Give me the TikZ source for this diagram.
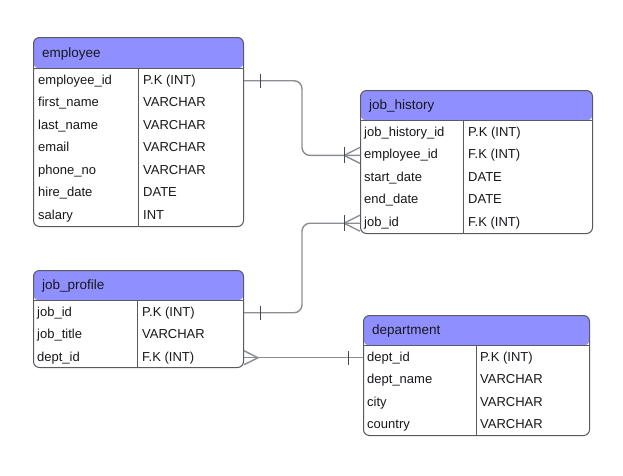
\documentclass[tikz,border=0pt]{standalone}
\usepackage{fontspec}
\setmainfont{Liberation Sans}
\usepackage{tikz}
\usetikzlibrary{positioning, calc}

\definecolor{hdrblue}{RGB}{143,143,255}
\definecolor{frameg}{RGB}{88,90,96}
\definecolor{linkg}{RGB}{138,141,148}
\definecolor{inkg}{RGB}{24,24,28}

\tikzset{
    onebar/.pic={\draw[barline] (0,-7) -- (0,7);},
    manybar/.pic={\draw[linkline] (0,0) -- (16,-8) (0,0) -- (16,8);
                  \draw[barline] (0,-8) -- (0,8);},
    manyfork/.pic={\draw[linkline] (0,-7) -- (14,0) -- (0,7);},
}

\begin{document}
\begin{tikzpicture}[
    x=1pt, y=-1pt,
    tbl/.style={draw=frameg, line width=1pt, rounded corners=6pt, fill=white, anchor=north west, inner sep=0pt,
        path picture={\fill[hdrblue] (path picture bounding box.north west) rectangle ([yshift=-#1]path picture bounding box.north east);}},
    hdrtext/.style={anchor=west, inner sep=0pt, text height=9.5pt, text depth=3pt, font=\fontsize{13.5}{15}\selectfont, text=inkg},
    cell/.style={anchor=west, inner sep=0pt, text height=9.5pt, text depth=3pt, font=\fontsize{13}{15}\selectfont, text=inkg},
    rule/.style={draw=frameg, line width=1pt},
    linkline/.style={draw=linkg, line width=1.4pt},
    barline/.style={draw=frameg!80!black, line width=1pt},
    link/.style={linkline, rounded corners=8pt},
]
\useasboundingbox (0,0) rectangle (623,475);

% employee
\node[tbl=31pt, minimum width=210pt, minimum height=189pt] (emp) at (33,37) {};
\node[hdrtext] (emp-h) at ($(emp.north west)+(9,17)$) {employee};
\draw[rule] ($(emp.north west)+(0,31)$) -- ($(emp.north east)+(0,31)$);
\draw[rule] ($(emp.north west)+(105,31)$) -- ($(emp.south west)+(105,0)$);
\foreach \n/\t [count=\i] in {employee\_id/P.K (INT), first\_name/VARCHAR, last\_name/VARCHAR, email/VARCHAR,
    phone\_no/VARCHAR, hire\_date/DATE, salary/INT} {
    \node[cell] (emp-\i) at ($(emp.north west)+(5,{31+22.5*\i-9.75})$) {\n};
    \node[cell] at ($(emp.north west)+(110,{31+22.5*\i-9.75})$) {\t};
}

% job_history
\node[tbl=30pt, minimum width=232pt, minimum height=143pt] (jh) at (360,90) {};
\node[hdrtext] (jh-h) at ($(jh.north west)+(9,16.5)$) {job\_history};
\draw[rule] ($(jh.north west)+(0,30)$) -- ($(jh.north east)+(0,30)$);
\draw[rule] ($(jh.north west)+(103,30)$) -- ($(jh.south west)+(103,0)$);
\foreach \n/\t [count=\i] in {job\_history\_id/P.K (INT), employee\_id/F.K (INT), start\_date/DATE,
    end\_date/DATE, job\_id/F.K (INT)} {
    \node[cell] (jh-\i) at ($(jh.north west)+(4,{30+22.6*\i-9.8})$) {\n};
    \node[cell] at ($(jh.north west)+(108,{30+22.6*\i-9.8})$) {\t};
}

% job_profile
\node[tbl=30pt, minimum width=210pt, minimum height=97pt] (jp) at (33,270) {};
\node[hdrtext] (jp-h) at ($(jp.north west)+(9,16.5)$) {job\_profile};
\draw[rule] ($(jp.north west)+(0,30)$) -- ($(jp.north east)+(0,30)$);
\draw[rule] ($(jp.north west)+(104,30)$) -- ($(jp.south west)+(104,0)$);
\foreach \n/\t [count=\i] in {job\_id/P.K (INT), job\_title/VARCHAR, dept\_id/F.K (INT)} {
    \node[cell] (jp-\i) at ($(jp.north west)+(4,{30+22.5*\i-9.75})$) {\n};
    \node[cell] at ($(jp.north west)+(109,{30+22.5*\i-9.75})$) {\t};
}

% department
\node[tbl=30pt, minimum width=226pt, minimum height=120pt] (dept) at (363,315) {};
\node[hdrtext] (dept-h) at ($(dept.north west)+(9,16.5)$) {department};
\draw[rule] ($(dept.north west)+(0,30)$) -- ($(dept.north east)+(0,30)$);
\draw[rule] ($(dept.north west)+(113,30)$) -- ($(dept.south west)+(113,0)$);
\foreach \n/\t [count=\i] in {dept\_id/P.K (INT), dept\_name/VARCHAR, city/VARCHAR, country/VARCHAR} {
    \node[cell] (dept-\i) at ($(dept.north west)+(4,{30+22.5*\i-9.75})$) {\n};
    \node[cell] at ($(dept.north west)+(117,{30+22.5*\i-9.75})$) {\t};
}

% relations
\draw[link] (emp-1 -| emp.east) -- ++(58,0) |- (jh-2 -| jh.west);
\draw[link] (jp-1 -| jp.east) -- ++(58,0) |- (jh-5 -| jh.west);
\draw[linkline] (jp-3 -| jp.east) -- (dept-1 -| dept.west);

% cardinality marks
\pic at ($(emp-1 -| emp.east)+(16,0)$) {onebar};
\pic at ($(jp-1 -| jp.east)+(16,0)$) {onebar};
\pic at ($(jh-2 -| jh.west)+(-16,0)$) {manybar};
\pic at ($(jh-5 -| jh.west)+(-16,0)$) {manybar};
\pic at (jp-3 -| jp.east) {manyfork};
\pic at ($(dept-1 -| dept.west)+(-15,0)$) {onebar};

\end{tikzpicture}
\end{document}
